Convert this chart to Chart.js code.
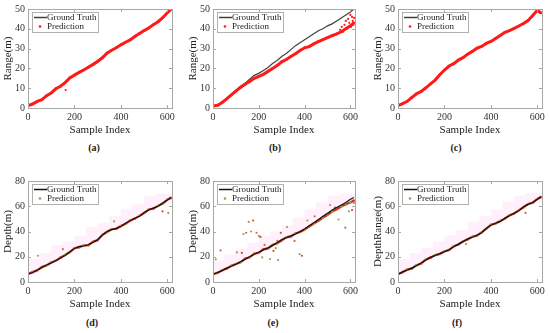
<!DOCTYPE html>
<html>
<head>
<meta charset="utf-8">
<script src="https://cdn.jsdelivr.net/npm/chart.js"></script>
<style>
    body { margin: 0; background: #fff; width: 550px; height: 333px; overflow: hidden; position: relative; }
    .panel { position: absolute; }
    .tag { position: absolute; font: bold 10px 'Liberation Serif', serif; color: #222; transform: translate(-50%, -50%); }
</style>
</head>
<body>
<div class="panel" style="left:0;top:0;width:180px;height:140px"><canvas id="chartA"></canvas></div>
<div class="panel" style="left:185px;top:0;width:178px;height:140px"><canvas id="chartB"></canvas></div>
<div class="panel" style="left:370px;top:0;width:180px;height:140px"><canvas id="chartC"></canvas></div>
<div class="panel" style="left:0;top:172px;width:180px;height:142px"><canvas id="chartD"></canvas></div>
<div class="panel" style="left:185px;top:172px;width:178px;height:142px"><canvas id="chartE"></canvas></div>
<div class="panel" style="left:370px;top:172px;width:180px;height:142px"><canvas id="chartF"></canvas></div>
<div class="tag" style="left:94px;top:147px">(a)</div>
<div class="tag" style="left:275px;top:147px">(b)</div>
<div class="tag" style="left:456px;top:147px">(c)</div>
<div class="tag" style="left:92px;top:322px">(d)</div>
<div class="tag" style="left:273px;top:322px">(e)</div>
<div class="tag" style="left:457px;top:322px">(f)</div>
<script>
    "use strict";

    // Sample index of every value below
    var sampleIdx = [0, 20, 40, 60, 80, 100, 120, 140, 160, 180, 200, 220, 240, 260, 280, 300,
        320, 340, 360, 380, 400, 420, 440, 460, 480, 500, 520, 540, 560, 580, 600, 615];
    var xTicks = [0, 200, 400, 600];
    var rangeTicks = [0, 10, 20, 30, 40, 50];
    var depthTicks = [0, 20, 40, 60, 80];

    // (a) range
    var gtA = [1, 1.8, 3, 4.4, 6, 7.8, 9.5, 11.2, 13, 15, 16.8, 18.2, 19.5, 21, 22.5, 24,
        25.8, 27.5, 29, 30.5, 31.8, 33, 34.5, 36, 37.5, 39, 40.5, 42, 43.5, 45.5, 48, 50];
    var predA = [1.2, 2, 3.3, 4.2, 6.2, 7.6, 9.7, 11, 12.8, 15.2, 16.6, 18, 19.2, 20.6, 22, 23.5,
        25.3, 27.7, 29.2, 30.4, 31.9, 33.2, 34.4, 36.1, 37.6, 39.1, 40.4, 42.1, 43.6, 45.6, 48.1, 49.8];
    var outAX = [162];
    var outAY = [9.1];

    // (b) range
    var gtB = [1, 1.5, 3, 5, 7, 9, 11, 12.5, 14.5, 16.5, 17.5, 19, 20.5, 22.5, 24, 26,
        27.5, 29.5, 31.5, 33, 34.5, 36, 37.5, 39, 40, 41.5, 42.5, 44, 45.5, 47, 48.5, 50];
    var predB = [1, 1.4, 2.8, 4.6, 6.6, 8.5, 10.4, 12, 13.4, 15, 16, 17, 18.5, 20, 21.5, 23.3,
        24.5, 26, 27.4, 29, 30.4, 31, 32.4, 33.5, 34.5, 35.5, 36.5, 37.4, 38.5, 40, 41.5, 43];
    var outBX = [555, 562, 568, 574, 580, 585, 590, 595, 600, 603, 607, 610, 613, 616];
    var outBY = [39.5, 41, 38.5, 42, 44, 40, 45, 43, 47, 41, 46, 44, 42, 45.5];

    // (c) range
    var gtC = [1, 2, 3.5, 5.2, 7, 8.5, 10, 12, 14, 16.5, 19, 21, 22.5, 24, 25.5, 27,
        28.5, 30, 31.2, 32.5, 33.5, 35, 36.5, 38, 39, 40, 41.5, 42.5, 44, 46.5, 49.2, 47.8];
    var predC = [1.2, 2.2, 3.4, 5.4, 7.2, 8.4, 10.2, 12.2, 14.1, 16.8, 19.2, 21.2, 22.4, 24.2, 25.4, 27.2,
        28.6, 30.2, 31.1, 32.6, 33.6, 35.1, 36.6, 38.2, 39.1, 40.2, 41.4, 42.7, 44.2, 46.7, 49.4, 48];

    // (d) depth
    var gtD = [6, 7.5, 9.5, 11.5, 13.5, 15, 17, 19, 21, 24, 26.5, 28, 28.5, 29.5, 31.5, 33.5,
        37, 40, 41.5, 42.5, 44, 46.5, 48.5, 50.5, 52, 55, 57, 58.5, 60, 62.5, 65, 67];
    var predD = [6.5, 7.8, 9.2, 11.8, 13.2, 15.4, 16.8, 19.3, 21.5, 23.6, 26.8, 27.6, 28.9, 29.2, 31.8, 33.2,
        37.4, 39.6, 41.8, 42.2, 44.4, 46.1, 48.8, 50.2, 52.4, 54.6, 57.4, 58.2, 60.3, 62.1, 65.3, 66.6];
    var outDX = [43, 150, 371, 579, 604];
    var outDY = [20.8, 26, 48, 56, 54.7];

    // (e) depth
    var gtE = [6, 7.5, 9, 11, 12.5, 14, 16, 18, 20, 22, 23.5, 25.5, 27, 29, 31, 33.5,
        35, 36.5, 38, 40, 42, 44.5, 47, 49.5, 52, 54.5, 57, 59, 61, 63, 65.5, 67];
    var predE = [6.3, 7.2, 9.4, 10.6, 12.9, 14.3, 15.6, 18.4, 19.6, 22.4, 23.2, 25.9, 26.6, 29.3, 30.7, 33.1,
        35.4, 36.1, 38.4, 39.6, 41.6, 44, 46.2, 48.5, 51, 53.3, 55.8, 57.6, 59.8, 61.5, 63, 64.5];
    var outEX = [12, 33, 104, 126, 133, 145, 156, 175, 166, 190, 200, 207, 215, 225, 249, 264, 274,
        281, 284, 296, 323, 356, 378, 388, 412, 444, 511, 533, 548, 578, 593, 607, 615];
    var outEY = [18, 25, 23.4, 23, 38, 39, 47.6, 48.7, 40, 39, 36.5, 35.7, 19.5, 29.4, 18.2, 24.7, 26.8,
        32.5, 17.4, 39, 43.5, 32.5, 22.1, 20.8, 48.7, 52, 61, 59, 49.5, 43, 56, 57, 62.5];

    // (f) depth range
    var gtF = [6, 8, 9.5, 11, 13, 15, 17.5, 19.5, 21, 22.5, 24, 25.5, 28, 30, 32, 34,
        35.5, 37, 39, 42.5, 45, 46.5, 48, 50.5, 52.5, 54.5, 56.5, 59.5, 61.5, 63, 65.5, 67.5];
    var predF = [6.3, 7.8, 9.8, 10.8, 13.3, 14.7, 17.8, 19.3, 21.3, 22.2, 24.3, 25.3, 28.3, 29.7, 32.2, 33.8,
        35.8, 36.8, 39.3, 42.2, 45.3, 46.3, 48.3, 50.2, 52.8, 54.3, 56.8, 59.2, 61.8, 62.8, 65.8, 67.2];
    var outFX = [293, 549];
    var outFY = [30, 54.7];

    // Pink uncertainty blocks (bottom row)
    var bandEdges = [0, 50, 100, 150, 200, 250, 300, 350, 400, 450, 500, 550, 600, 620];
    var bandLowD = [3, 7.5, 12, 17, 23.5, 26, 30.5, 37.8, 41, 46.5, 52, 56, 62, 62];
    var bandHighD = [13.5, 18, 23, 29.5, 32, 36.5, 43.8, 47, 52.5, 58, 62, 68, 70, 70];
    var bandLowE = [3, 7, 11, 16, 20.5, 25, 30.5, 34, 39, 45, 51.5, 57, 62.5, 62.5];
    var bandHighE = [13, 17, 22, 26.5, 31, 36.5, 40, 45, 51, 57.5, 63, 68.5, 70, 70];
    var bandLowF = [3, 7, 12, 17, 21, 26, 31, 35, 42, 46, 51.5, 57.5, 62.5, 62.5];
    var bandHighF = [13, 18, 23, 27, 32, 37, 41, 48, 52, 57.5, 63.5, 68.5, 70.5, 70.5];


    Chart.defaults.font.family = "'Liberation Serif', 'Times New Roman', serif";
    Chart.defaults.color = '#333';

    function points(xs, ys) {
        return xs.map(function (x, i) { return {x: x, y: ys[i]}; });
    }

    // Frame, inward ticks and the in-plot legend
    var boxPlugin = {
        id: 'box',
        afterDraw: function (chart, args, opts) {
            var a = chart.chartArea, ctx = chart.ctx;
            var sx = chart.scales.x, sy = chart.scales.y;
            ctx.save();
            ctx.strokeStyle = '#a8a8a8';
            ctx.lineWidth = 1;
            ctx.strokeRect(Math.round(a.left) + 0.5, Math.round(a.top) + 0.5,
                Math.round(a.right - a.left), Math.round(a.bottom - a.top));
            ctx.beginPath();
            sx.ticks.forEach(function (t) {
                var px = Math.round(sx.getPixelForValue(t.value)) + 0.5;
                ctx.moveTo(px, a.bottom); ctx.lineTo(px, a.bottom - 3);
                ctx.moveTo(px, a.top); ctx.lineTo(px, a.top + 3);
            });
            sy.ticks.forEach(function (t) {
                var py = Math.round(sy.getPixelForValue(t.value)) + 0.5;
                ctx.moveTo(a.left, py); ctx.lineTo(a.left + 3, py);
                ctx.moveTo(a.right, py); ctx.lineTo(a.right - 3, py);
            });
            ctx.stroke();

            // legend
            var lx = Math.round(a.left) + 4, ly = Math.round(a.top) + 3;
            ctx.fillStyle = '#fff';
            ctx.fillRect(lx, ly, 66, 20);
            ctx.strokeStyle = '#b0b0b0';
            ctx.strokeRect(lx + 0.5, ly + 0.5, 66, 20);
            ctx.strokeStyle = opts.gtColor;
            ctx.lineWidth = 1.5;
            ctx.beginPath();
            ctx.moveTo(lx + 2, ly + 5.5);
            ctx.lineTo(lx + 15, ly + 5.5);
            ctx.stroke();
            ctx.fillStyle = opts.predColor;
            ctx.beginPath();
            ctx.arc(lx + 8, ly + 14.5, 1.3, 0, Math.PI * 2);
            ctx.fill();
            ctx.fillStyle = '#222';
            ctx.font = "9px 'Liberation Serif', serif";
            ctx.textBaseline = 'middle';
            ctx.fillText('Ground Truth', lx + 15, ly + 5.5);
            ctx.fillText('Prediction', lx + 15, ly + 15);
            ctx.restore();
        }
    };

    function makePanel(id, opt) {
        var datasets = [];
        if (opt.bandLow) {
            datasets.push({
                data: points(bandEdges, opt.bandHigh), showLine: true, stepped: 'after',
                borderWidth: 0, pointRadius: 0, fill: false, order: 9
            });
            datasets.push({
                data: points(bandEdges, opt.bandLow), showLine: true, stepped: 'after',
                borderWidth: 0, pointRadius: 0, fill: '-1', backgroundColor: 'rgba(255, 120, 225, 0.11)', order: 9
            });
        }
        datasets.push({
            data: points(sampleIdx, opt.gt), showLine: true, borderColor: opt.gtColor,
            borderWidth: 1.2, pointRadius: 0, order: opt.top ? 2 : 0
        });
        datasets.push({
            data: points(sampleIdx, opt.pred), showLine: true, borderColor: opt.lineColor,
            borderWidth: opt.top ? 3 : 2.2, pointRadius: 1.3, pointBorderWidth: 0,
            pointBackgroundColor: opt.predColor, order: 1
        });
        if (opt.outX) {
            datasets.push({
                data: points(opt.outX, opt.outY), showLine: false, pointRadius: 1.1, pointBorderWidth: 0,
                pointBackgroundColor: opt.outColor, order: 1
            });
        }

        new Chart(document.getElementById(id), {
            type: 'scatter',
            data: {datasets: datasets},
            options: {
                responsive: true,
                maintainAspectRatio: false,
                animation: false,
                layout: {padding: {top: 7, right: 8, left: 0, bottom: 0}},
                plugins: {
                    legend: {display: false},
                    tooltip: {enabled: false},
                    box: {gtColor: opt.gtColor, predColor: opt.legendColor}
                },
                scales: {
                    x: {
                        type: 'linear', min: 0, max: 620,
                        afterFit: function (s) { s.height = 32; },
                        afterBuildTicks: function (s) { s.ticks = xTicks.map(function (v) { return {value: v}; }); },
                        grid: {display: false, drawTicks: false}, border: {display: false},
                        ticks: {font: {size: 10}, padding: 3, maxRotation: 0},
                        title: {display: true, text: 'Sample Index', font: {size: 11}, color: '#222', padding: {top: 0, bottom: 3}}
                    },
                    y: {
                        type: 'linear', min: 0, max: opt.yTicks[opt.yTicks.length - 1],
                        afterFit: function (s) { s.width = 28; },
                        afterBuildTicks: function (s) { s.ticks = opt.yTicks.map(function (v) { return {value: v}; }); },
                        grid: {display: false, drawTicks: false}, border: {display: false},
                        ticks: {font: {size: 10}, padding: 3},
                        title: {display: true, text: opt.yTitle, font: {size: 11}, color: '#222', padding: {top: 2, bottom: 0}}
                    }
                }
            },
            plugins: [boxPlugin]
        });
    }

    var red = '#ff1a1a';
    var olive = ['#a89a50', '#c8703a', '#9c9c58', '#d04a30'];

    makePanel('chartA', {gt: gtA, pred: predA, outX: outAX, outY: outAY, yTicks: rangeTicks, yTitle: 'Range(m)',
        top: true, gtColor: '#404040', lineColor: red, predColor: red, outColor: red, legendColor: red});
    makePanel('chartB', {gt: gtB, pred: predB, outX: outBX, outY: outBY, yTicks: rangeTicks, yTitle: 'Range(m)',
        top: true, gtColor: '#404040', lineColor: red, predColor: red, outColor: red, legendColor: red});
    makePanel('chartC', {gt: gtC, pred: predC, yTicks: rangeTicks, yTitle: 'Range(m)',
        top: true, gtColor: '#404040', lineColor: red, predColor: red, legendColor: red});
    makePanel('chartD', {gt: gtD, pred: predD, outX: outDX, outY: outDY, yTicks: depthTicks, yTitle: 'Depth(m)',
        bandLow: bandLowD, bandHigh: bandHighD, gtColor: '#111', lineColor: '#c0301c', predColor: olive, outColor: olive, legendColor: '#a89a50'});
    makePanel('chartE', {gt: gtE, pred: predE, outX: outEX, outY: outEY, yTicks: depthTicks, yTitle: 'Depth(m)',
        bandLow: bandLowE, bandHigh: bandHighE, gtColor: '#111', lineColor: '#c0301c', predColor: olive, outColor: olive, legendColor: '#a89a50'});
    makePanel('chartF', {gt: gtF, pred: predF, outX: outFX, outY: outFY, yTicks: depthTicks, yTitle: 'DepthRange(m)',
        bandLow: bandLowF, bandHigh: bandHighF, gtColor: '#111', lineColor: '#c0301c', predColor: olive, outColor: olive, legendColor: '#a89a50'});
</script>
</body>
</html>
